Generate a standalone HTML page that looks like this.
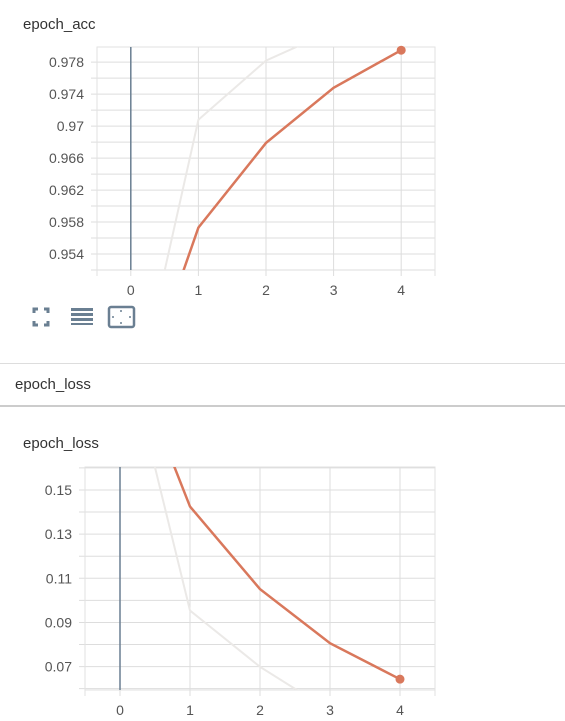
<!DOCTYPE html>
<html><head><meta charset="utf-8">
<style>
body{margin:0;width:565px;height:721px;background:#fff;font-family:"Liberation Sans",sans-serif;overflow:hidden;position:relative}
.t{position:absolute;font-size:15px;color:#333}
svg{position:absolute;left:0;top:0}
.hdr{position:absolute;left:0;top:363px;width:565px;height:44px;border-top:1px solid #ddd;border-bottom:2px solid #ccc;box-sizing:border-box}
</style></head><body>
<div class="t" style="left:23px;top:16px">epoch_acc</div>
<div class="hdr"><div class="t" style="left:15px;top:12px">epoch_loss</div></div>
<div class="t" style="left:23px;top:435px">epoch_loss</div>
<svg width="565" height="721">
<g id="acc"></g>
<g id="loss"></g>
<g>
<g stroke="#6a7f92" stroke-width="3" fill="none">
<path d="M34 313v-4h4M44 309h4v4M48 321v4h-4M38 325h-4v-4"/></g>
<g fill="#6a7f92">
<rect x="71" y="308" width="22" height="3"/><rect x="71" y="313" width="22" height="3"/><rect x="71" y="318" width="22" height="3"/><rect x="71" y="323" width="22" height="2"/></g>
<g><rect x="109" y="307" width="25" height="20" rx="2" fill="none" stroke="#6a7f92" stroke-width="2.5"/>
<circle cx="121" cy="311" r="1" fill="#6a7f92"/><circle cx="121" cy="323" r="1" fill="#6a7f92"/><circle cx="113" cy="317" r="1" fill="#6a7f92"/><circle cx="130" cy="317" r="1" fill="#6a7f92"/></g>
</g>
</svg>
<script>
const accSteps=[0,1,2,3,4];
const accMain=[0.933,0.9573,0.9679,0.9748,0.9795];
const accGhost=[0.933,0.9708,0.9782,0.982,0.984];
const accTicks=[0.954,0.958,0.962,0.966,0.970,0.974,0.978];
const accTickLabels=["0.954","0.958","0.962","0.966","0.97","0.974","0.978"];
const lossSteps=[0,1,2,3,4];
const lossMain=[0.223,0.1425,0.1051,0.0806,0.0643];
const lossGhost=[0.225,0.0954,0.0699,0.050,0.040];
const lossTicks=[0.07,0.09,0.11,0.13,0.15];
const lossTickLabels=["0.07","0.09","0.11","0.13","0.15"];
const xTicks=[0,1,2,3,4];
const NS="http://www.w3.org/2000/svg";
function mk(tag,attrs,parent){const e=document.createElementNS(NS,tag);for(const k in attrs)e.setAttribute(k,attrs[k]);parent.appendChild(e);return e;}
function chart(g,L,R,T,B,ymin,ymax,minorStep,ticks,labels,steps,main,ghost,labelX,id){
  const xs=v=>L+(v+0.5)/5*(R-L);
  const ys=v=>B-(v-ymin)/(ymax-ymin)*(B-T);
  const cp=mk('clipPath',{id:id},g);mk('rect',{x:L,y:T,width:R-L,height:B-T},cp);
  mk('rect',{x:L,y:T,width:R-L,height:B-T,fill:'none',stroke:'#e2e2e2'},g);
  const n0=Math.ceil(ymin/minorStep),n1=Math.floor(ymax/minorStep);
  for(let n=n0;n<=n1;n++){const y=ys(n*minorStep);const l=mk('line',{x1:L-6,x2:R,y1:y,y2:y,stroke:'#ddd'},g);
    }
  xTicks.forEach(v=>{const x=xs(v);const l=mk('line',{x1:x,x2:x,y1:T,y2:B+6,stroke:'#ddd'},g);
    });
  [L,R].forEach(x=>{const l=mk('line',{x1:x,x2:x,y1:T,y2:B+6,stroke:'#e2e2e2'},g);
    });
  xTicks.forEach(v=>{const t=mk('text',{x:xs(v),y:B+25,'text-anchor':'middle','font-size':'14','fill':'#555','font-family':'Liberation Sans'},g);t.textContent=v;
    });
  ticks.forEach((v,i)=>{const t=mk('text',{x:labelX,y:ys(v)+5,'text-anchor':'end','font-size':'14','fill':'#555','font-family':'Liberation Sans'},g);t.textContent=labels[i];
    });
  const z=mk('line',{x1:xs(0),x2:xs(0),y1:T,y2:B,stroke:'#6a7f92','stroke-width':1.5},g);
  
  const pg=mk('polyline',{points:steps.map((s,i)=>xs(s)+','+ys(ghost[i])).join(' '),fill:'none',stroke:'#ebe9e7','stroke-width':2,'clip-path':'url(#'+id+')'},g);
  
  const pm=mk('polyline',{points:steps.map((s,i)=>xs(s)+','+ys(main[i])).join(' '),fill:'none',stroke:'#d9785c','stroke-width':2.5,'clip-path':'url(#'+id+')'},g);
  
  const last=steps.length-1;
  const c=mk('circle',{cx:xs(steps[last]),cy:ys(main[last]),r:4.5,fill:'#d9785c'},g);
  
}
chart(document.getElementById('acc'),97,435,47,270,0.952,0.9799,0.002,accTicks,accTickLabels,accSteps,accMain,accGhost,84,'ca');
chart(document.getElementById('loss'),85,435,467,690,0.0594,0.1604,0.01,lossTicks,lossTickLabels,lossSteps,lossMain,lossGhost,72,'cl');
</script>
</body></html>
